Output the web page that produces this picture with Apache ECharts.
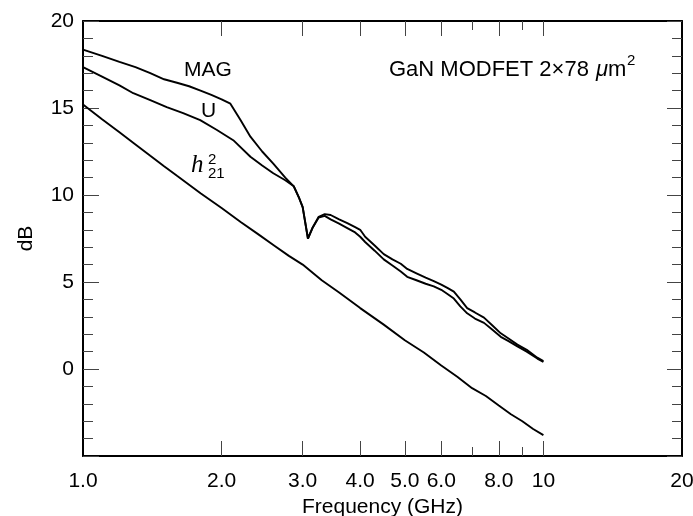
<!DOCTYPE html>
<html><head><meta charset="utf-8">
<script src="https://cdn.jsdelivr.net/npm/echarts@6/dist/echarts.min.js"></script>
<style>html,body{margin:0;padding:0;background:#fff}#c{width:693px;height:516px}</style>
</head><body><div id="c"></div>
<script>
// ---- data ----
const magFreq = [1.0,1.1,1.2,1.3,1.4,1.5,1.6,1.7,1.8,1.9,2.0,2.09,2.2,2.31,2.45,2.59,2.75,2.87,2.95,3.0,3.08,3.15,3.25,3.35,3.45,3.6,3.75,3.9,4.0,4.1,4.3,4.5,4.7,4.9,5.06,5.3,5.55,5.78,6.0,6.2,6.39,6.6,6.83,7.1,7.43,7.75,8.08,8.4,8.78,9.2,9.7,10.0];
const magDb   = [18.35,18.0,17.65,17.35,17.0,16.65,16.45,16.25,16.0,15.75,15.5,15.25,14.3,13.35,12.5,11.8,11.0,10.5,9.8,9.3,7.5,8.1,8.75,8.9,8.85,8.6,8.38,8.15,8.0,7.6,7.1,6.6,6.3,6.05,5.75,5.5,5.25,5.05,4.85,4.65,4.45,4.0,3.5,3.25,2.95,2.5,2.05,1.75,1.4,1.1,0.65,0.45];
const uFreq   = [1.0,1.1,1.2,1.286,1.4,1.52,1.65,1.797,1.95,2.12,2.31,2.45,2.59,2.75,2.87,2.95,3.0,3.08,3.15,3.25,3.35,3.45,3.6,3.75,3.9,4.0,4.1,4.3,4.5,4.7,4.9,5.06,5.3,5.55,5.78,6.0,6.2,6.39,6.6,6.83,7.1,7.43,7.75,8.08,8.4,8.78,9.2,9.7,10.0];
const uDb     = [17.35,16.8,16.3,15.85,15.45,15.05,14.7,14.3,13.75,13.15,12.2,11.7,11.25,10.85,10.5,9.8,9.3,7.5,8.1,8.7,8.8,8.6,8.35,8.1,7.85,7.6,7.3,6.8,6.3,5.95,5.6,5.3,5.1,4.9,4.75,4.55,4.3,4.05,3.6,3.2,2.9,2.65,2.25,1.85,1.6,1.3,1.0,0.6,0.4];
const h21Freq = [1.0,1.1,1.2,1.3,1.4,1.5,1.6,1.8,2.0,2.2,2.4,2.6,2.8,3.0,3.3,3.6,4.0,4.5,5.0,5.5,6.0,6.5,7.0,7.5,8.0,8.5,9.0,9.5,10.0];
const h21Db   = [15.2,14.35,13.6,12.9,12.25,11.65,11.1,10.1,9.25,8.45,7.75,7.1,6.5,6.0,5.1,4.4,3.5,2.55,1.65,0.95,0.2,-0.45,-1.1,-1.55,-2.1,-2.6,-3.0,-3.45,-3.8];
const xLabelValues = [1,2,3,4,5,6,8,10,20];
const xLongTicks = [2,3,4,5,6,8,10];
const xShortTicks = [7,9];
const yMin = -5, yMax = 20, yStep = 5;

const FONT = 'Liberation Sans, Arial, Helvetica, sans-serif';
const FS = 21;
const TFS = 22;
const zip = (a, b) => a.map((v, i) => [v, b[i]]);
const fmtX = v => (v >= 10 ? String(Math.round(v)) : v.toFixed(1));

function xAx(pos, ticks, len, opts) {
  return Object.assign({
    type: 'log', logBase: 10, min: 1, max: 20, position: pos,
    axisLine: { show: true, onZero: false, lineStyle: { color: '#000', width: 2 } },
    axisTick: { show: true, inside: true, length: len, customValues: ticks, lineStyle: { color: '#444', width: 1 } },
    axisLabel: { show: false },
    splitLine: { show: false }, minorTick: { show: false }, minorSplitLine: { show: false }
  }, opts || {});
}

const chart = echarts.init(document.getElementById('c'), null, { renderer: 'canvas' });
chart.setOption({
  animation: false,
  backgroundColor: '#fff',
  grid: { left: 83, right: 11, top: 21, bottom: 60, containLabel: false, outerBoundsMode: 'none' },
  xAxis: [
    xAx('bottom', xLongTicks, 15, {
      axisLabel: { show: true, customValues: xLabelValues, formatter: fmtX, margin: 15,
        color: '#000', fontSize: FS, fontFamily: FONT },
      name: 'Frequency (GHz)', nameLocation: 'middle', nameGap: 39,
      nameTextStyle: { color: '#000', fontSize: FS, fontFamily: FONT }
    }),
    xAx('bottom', xShortTicks, 9, { axisLine: { show: false, onZero: false } }),
    xAx('top', xLongTicks, 15),
    xAx('top', xShortTicks, 9, { axisLine: { show: false, onZero: false } })
  ],
  yAxis: [
    {
      type: 'value', min: yMin, max: yMax, interval: yStep, position: 'left',
      axisLine: { show: true, onZero: false, lineStyle: { color: '#000', width: 2 } },
      axisTick: { show: true, inside: true, length: 16, lineStyle: { color: '#444', width: 1 } },
      minorTick: { show: true, splitNumber: 5, length: 10, lineStyle: { color: '#444', width: 1 } },
      splitLine: { show: false },
      axisLabel: { margin: 9, color: '#000', fontSize: FS, fontFamily: FONT,
        formatter: v => (v === yMin ? '' : String(v)) },
      name: 'dB', nameLocation: 'middle', nameGap: 46,
      nameTextStyle: { color: '#000', fontSize: FS, fontFamily: FONT }
    },
    {
      type: 'value', min: yMin, max: yMax, interval: yStep, position: 'right',
      axisLine: { show: true, onZero: false, lineStyle: { color: '#000', width: 2 } },
      axisTick: { show: true, inside: true, length: 15, lineStyle: { color: '#444', width: 1 } },
      minorTick: { show: true, splitNumber: 5, length: 10, lineStyle: { color: '#444', width: 1 } },
      splitLine: { show: false },
      axisLabel: { show: false }
    }
  ],
  series: [
    { name: 'MAG', type: 'line', data: zip(magFreq, magDb), showSymbol: false, symbol: 'none',
      lineStyle: { color: '#000', width: 1.9 }, xAxisIndex: 0, yAxisIndex: 0 },
    { name: 'U', type: 'line', data: zip(uFreq, uDb), showSymbol: false, symbol: 'none',
      lineStyle: { color: '#000', width: 1.9 }, xAxisIndex: 0, yAxisIndex: 0 },
    { name: 'h21', type: 'line', data: zip(h21Freq, h21Db), showSymbol: false, symbol: 'none',
      lineStyle: { color: '#000', width: 1.9 }, xAxisIndex: 0, yAxisIndex: 0 }
  ],
  graphic: [
    { type: 'text', left: 184, top: 60, style: { text: 'MAG', fill: '#000', font: FS + 'px ' + FONT } },
    { type: 'text', left: 201, top: 101, style: { text: 'U', fill: '#000', font: FS + 'px ' + FONT } },
    { type: 'text', left: 191, top: 153, style: { text: 'h', fill: '#000', font: 'italic 25px Liberation Serif, Times New Roman, serif' } },
    { type: 'text', left: 208, top: 152, style: { text: '2', fill: '#000', font: '15px ' + FONT } },
    { type: 'text', left: 208, top: 166, style: { text: '21', fill: '#000', font: '15px ' + FONT } },
    { type: 'text', left: 389, top: 59, style: { text: 'GaN MODFET 2×78', fill: '#000', font: TFS + 'px ' + FONT } },
    { type: 'text', left: 596, top: 59, style: { text: 'μ', fill: '#000', font: 'italic ' + TFS + 'px ' + FONT } },
    { type: 'text', left: 608, top: 59, style: { text: 'm', fill: '#000', font: TFS + 'px ' + FONT } },
    { type: 'text', left: 627, top: 53, style: { text: '2', fill: '#000', font: '15px ' + FONT } }
  ]
});
</script></body></html>
